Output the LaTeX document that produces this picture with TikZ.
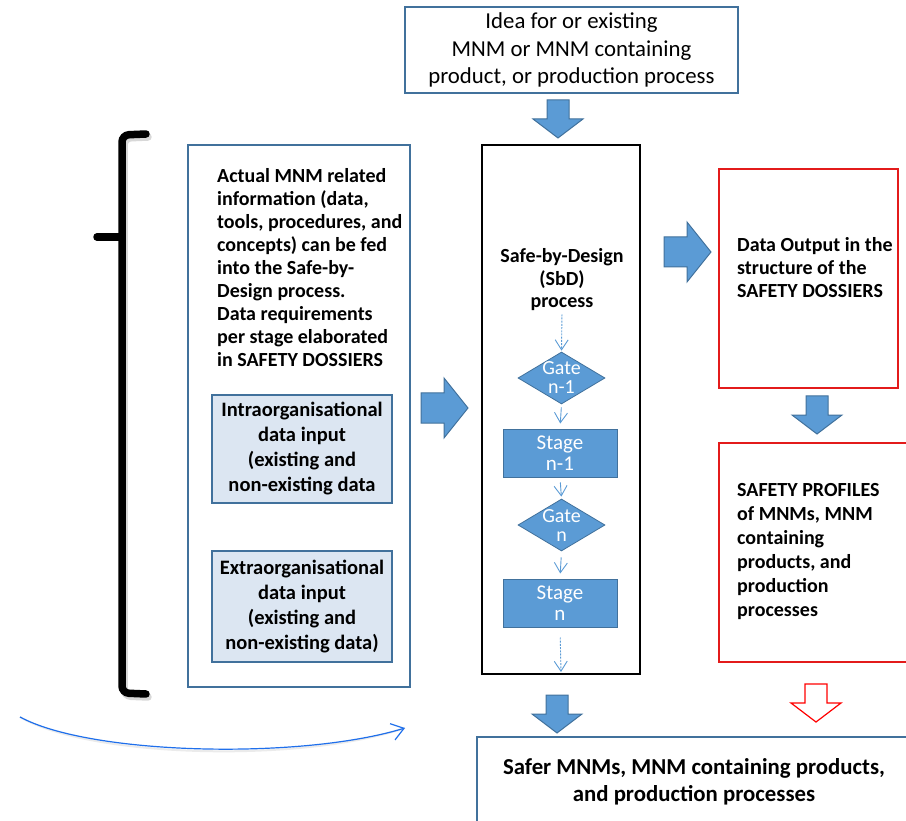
\documentclass[tikz,border=0pt]{standalone}
\usepackage{fontspec}
\setmainfont{Carlito}
\usetikzlibrary{shapes.geometric,arrows.meta,calc}
\definecolor{shapeblue}{HTML}{5B9BD5}
\definecolor{edgeblue}{HTML}{41719C}
\definecolor{paleblue}{HTML}{DCE6F2}
\definecolor{boxred}{HTML}{E31B1B}
\definecolor{curveblue}{HTML}{1F6FEB}

\tikzset{
  frame/.style={draw=edgeblue, line width=1.6pt, fill=white, inner sep=0pt},
  redframe/.style={draw=boxred, line width=1.6pt, inner sep=0pt},
  blackframe/.style={draw=black, line width=1.8pt, inner sep=0pt},
  inbox/.style={draw=edgeblue, line width=1.2pt, fill=paleblue, align=center,
    inner sep=0pt, font=\bfseries\fontsize{20.5}{25}\selectfont},
  stagebox/.style={draw=edgeblue, line width=1pt, fill=shapeblue, text=white,
    align=center, font=\fontsize{21}{20.5}\selectfont,
    minimum width=114pt, minimum height=48pt, inner sep=0pt},
  gatebox/.style={diamond, draw=edgeblue, line width=0.8pt, fill=shapeblue,
    minimum width=87pt, minimum height=52pt, inner sep=0pt},
  whitetxt/.style={text=white, align=center, inner sep=0pt,
    font=\fontsize{20}{19}\selectfont},
  bodytext/.style={align=left, inner sep=0pt, font=\bfseries\fontsize{20}{23}\selectfont},
  flow/.style={draw=shapeblue, line width=0.9pt, -{Straight Barb[length=10pt,width=13pt]}},
  flowdash/.style={flow, dash pattern=on 2pt off 1.2pt},
  blockfill/.style={fill=shapeblue, draw=edgeblue, line width=1pt},
  blockred/.style={fill=white, draw=red, line width=1.2pt},
  bracestroke/.style={line width=7.5pt, line cap=round, rounded corners=7pt},
  pics/downblock/.style={code={
    \path[pic actions] (-11,-19) -- (11,-19) -- (11,0) -- (25,0) -- (0,19)
      -- (-25,0) -- (-11,0) -- cycle;}},
  pics/rightblock/.style={code={
    \path[pic actions] (-23,-15) -- (0,-15) -- (0,-30) -- (24,0) -- (0,30)
      -- (0,15) -- (-23,15) -- cycle;}}
}

\begin{document}
\begin{tikzpicture}[x=1pt,y=-1pt]
\useasboundingbox (0,0) rectangle (906,821);
\clip (0,0) rectangle (906,821);

% starting point
\node[frame, minimum width=333pt, minimum height=86pt, align=center,
      font=\fontsize{22.8}{27.5}\selectfont] (idea) at (571.5,50)
  {Idea for or existing\\MNM or MNM containing\\product, or production process};
\pic[blockfill] at (558,119) {downblock};

% information column with brace
\draw[black!30, opacity=0.5, bracestroke, shift={(2,3)}]
  (146,134) -- (122,135) -- (122,693) -- (146,694);
\draw[bracestroke] (146,134) -- (122,135) -- (122,693) -- (146,694);
\draw[line width=7.5pt, line cap=round] (97,237) -- (122,237);

\node[frame, minimum width=222pt, minimum height=542pt] (info) at (299,416) {};
\node[bodytext, anchor=west] (infotext) at (217,268)
  {Actual MNM related\\information (data,\\tools, procedures, and\\concepts) can be fed\\into the Safe-by-\\Design process.\\Data requirements\\per stage elaborated\\in SAFETY DOSSIERS};
\node[inbox, minimum width=180pt, minimum height=108pt] (intra) at (302,449)
  {Intraorganisational\\data input\\(existing and\\non-existing data};
\node[inbox, minimum width=180pt, minimum height=111pt] (extra) at (302,606.5)
  {Extraorganisational\\data input\\(existing and\\non-existing data)};

\pic[blockfill] at (444,408) {rightblock};

% Safe-by-Design process
\node[blackframe, minimum width=158pt, minimum height=529pt] (sbd) at (561,409.5) {};
\node[bodytext, align=center, font=\bfseries\fontsize{20}{22.5}\selectfont]
  (sbdtext) at (562,280) {Safe-by-Design\\(SbD)\\process};
\node[gatebox] (g1) at (561.5,378) {};
\node[whitetxt] (g1t) at (561.5,377.5) {Gate\\n-1};
\node[stagebox] (s1) at (560,453) {Stage\\n-1};
\node[gatebox] (g2) at (561.5,525) {};
\node[whitetxt] (g2t) at (561.5,526) {Gate\\n};
\node[stagebox] (s2) at (560,603) {Stage\\n};
\coordinate (sbdend) at (561,672);

\draw[flowdash, shorten <=3pt, shorten >=1pt] (sbdtext.south) -- (g1.north);
\draw[flow, shorten <=3pt, shorten >=5pt] (g1.south) -- (s1.north);
\draw[flow, shorten <=5pt, shorten >=2pt] (s1.south) -- (g2.north);
\draw[flow, shorten <=6pt, shorten >=5pt] (g2.south) -- (s2.north);
\draw[flowdash, shorten <=10pt] (s2.south) -- (sbdend);

\pic[blockfill] at (687,252) {rightblock};

% outputs
\node[redframe, minimum width=179pt, minimum height=219pt] (dossier) at (808.5,278.5) {};
\node[bodytext, anchor=west] (dossiertext) at (737,268)
  {Data Output in the\\structure of the\\SAFETY DOSSIERS};
\pic[blockfill] at (817,415) {downblock};
\node[redframe, minimum width=200pt, minimum height=219pt] (profile) at (819,552.5) {};
\node[bodytext, anchor=west, font=\bfseries\fontsize{20}{24}\selectfont]
  (profiletext) at (737,552)
  {SAFETY PROFILES\\of MNMs, MNM\\containing\\products, and\\production\\processes};
\pic[blockred] at (816,703) {downblock};

% result
\pic[blockfill] at (557,714) {downblock};
\node[frame, minimum width=453pt, minimum height=113pt] (safer) at (703.5,793.5) {};
\node[align=center, inner sep=0pt, font=\bfseries\fontsize{22.8}{27}\selectfont]
  (safertext) at (694,782)
  {Safer MNMs, MNM containing products,\\and production processes};

% feedback curve
\coordinate (cstart) at (20,717);
\coordinate (cend) at (405,728);
\draw[black!20, line width=2pt, opacity=0.4, shift={(1,3)}]
  (cstart) .. controls (90,755) and (300,760) .. (cend);
\draw[curveblue, line width=1.2pt, -{Straight Barb[length=12pt,width=17pt]}]
  (cstart) .. controls (90,755) and (300,760) .. (cend);
\end{tikzpicture}
\end{document}
